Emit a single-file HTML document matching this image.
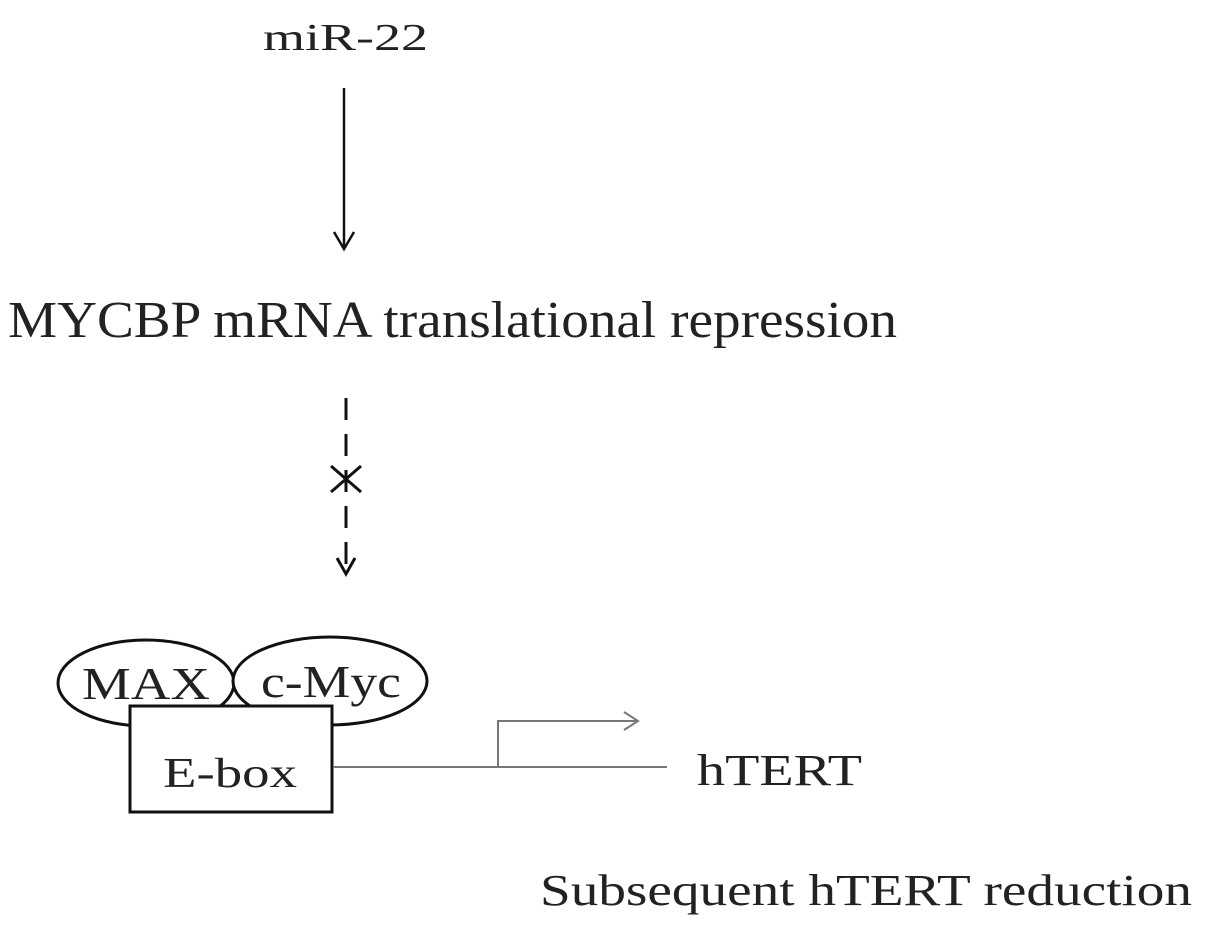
<!DOCTYPE html>
<html><head><meta charset="utf-8"><style>
html,body{margin:0;padding:0;background:#fff;}
svg{display:block;}
text{font-family:"Liberation Serif",serif;fill:#222;}
</style></head><body>
<svg width="1205" height="933" viewBox="0 0 1205 933" xmlns="http://www.w3.org/2000/svg">
<text x="263" y="50" font-size="38" textLength="165" lengthAdjust="spacingAndGlyphs">miR-22</text>
<line x1="344" y1="88" x2="344" y2="248" stroke="#111" stroke-width="2.5"/>
<polyline points="334,232 344,249 354,232" fill="none" stroke="#111" stroke-width="2.5"/>
<text x="8" y="337" font-size="52" textLength="889" lengthAdjust="spacingAndGlyphs">MYCBP mRNA translational repression</text>
<line x1="346" y1="398" x2="346" y2="572" stroke="#111" stroke-width="3" stroke-dasharray="22,14"/>
<line x1="331" y1="466" x2="361" y2="492" stroke="#111" stroke-width="3"/>
<line x1="361" y1="466" x2="331" y2="492" stroke="#111" stroke-width="3"/>
<polyline points="337,558 346,574 355,558" fill="none" stroke="#111" stroke-width="3"/>
<ellipse cx="146" cy="683" rx="88" ry="43" fill="#fff" stroke="#111" stroke-width="3"/>
<ellipse cx="330" cy="681" rx="97" ry="44" fill="#fff" stroke="#111" stroke-width="3"/>
<text x="82" y="699" font-size="46" textLength="128" lengthAdjust="spacingAndGlyphs">MAX</text>
<text x="261" y="697" font-size="46" textLength="140" lengthAdjust="spacingAndGlyphs">c-Myc</text>
<rect x="130" y="706" width="202" height="106" fill="#fff" stroke="#111" stroke-width="3"/>
<text x="163" y="787" font-size="42" textLength="134" lengthAdjust="spacingAndGlyphs">E-box</text>
<line x1="333" y1="767" x2="667" y2="767" stroke="#777" stroke-width="2"/>
<polyline points="498,767 498,721 638,721" fill="none" stroke="#777" stroke-width="2"/>
<polyline points="624,712 638,721 624,730" fill="none" stroke="#777" stroke-width="2"/>
<text x="697" y="785" font-size="44" textLength="165" lengthAdjust="spacingAndGlyphs">hTERT</text>
<text x="540" y="905" font-size="44" textLength="652" lengthAdjust="spacingAndGlyphs">Subsequent hTERT reduction</text>
</svg>
</body></html>
